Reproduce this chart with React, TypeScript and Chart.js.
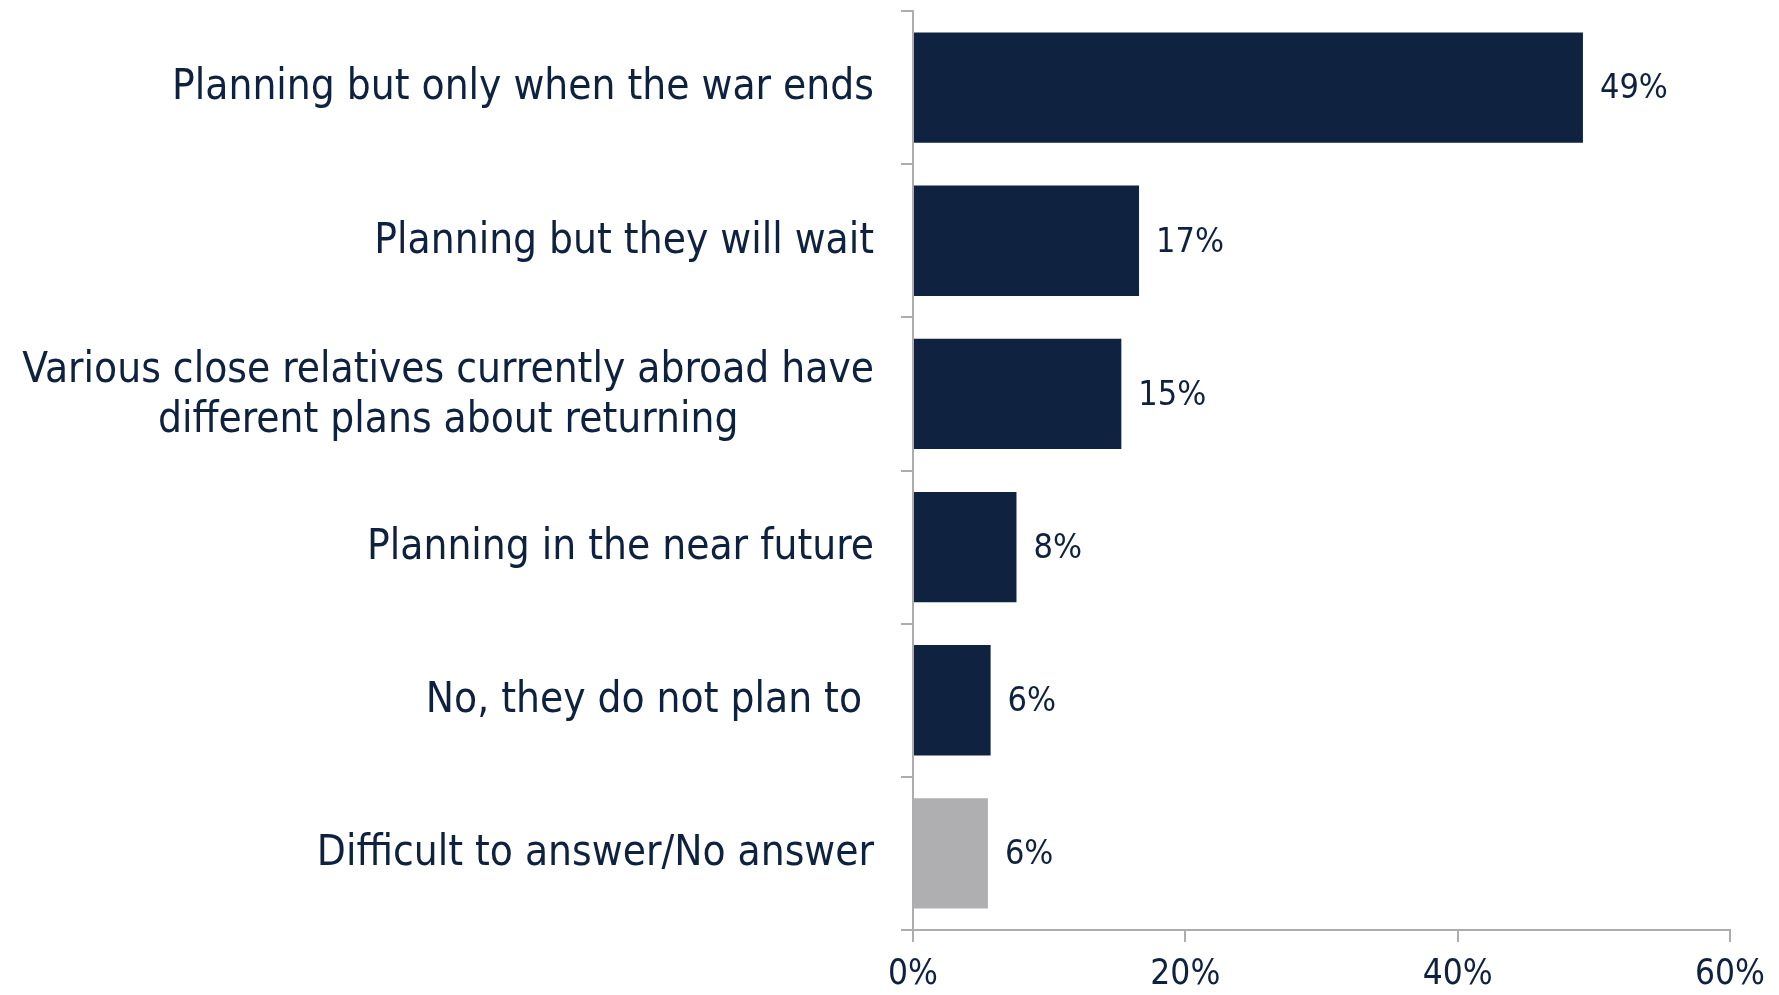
import React, { useEffect, useRef } from "react";
import { Chart, registerables } from "chart.js";

Chart.register(...registerables);

const categories: (string | string[])[] = [
  "Planning but only when the war ends",
  "Planning but they will wait",
  ["Various close relatives currently abroad have", "different plans about returning"],
  "Planning in the near future",
  "No, they do not plan to ",
  "Difficult to answer/No answer",
];
const values = [49.2, 16.6, 15.3, 7.6, 5.7, 5.5];
const valueLabels = ["49%", "17%", "15%", "8%", "6%", "6%"];
const barColors = ["#0F2341", "#0F2341", "#0F2341", "#0F2341", "#0F2341", "#AFAFB1"];
const xTicks = [0, 20, 40, 60];

const NAVY = "#0E2240";
const AXIS = "#ADADB0";
const LABEL_FONT = '"DejaVu Sans Condensed", "DejaVu Sans", sans-serif';
const NUM_FONT = '"DejaVu Sans Condensed", sans-serif';

export default function App() {
  const ref = useRef<HTMLCanvasElement | null>(null);
  useEffect(() => {
    document.body.style.margin = "0";
    const canvas = ref.current!;
    const labelsPlugin = {
      id: "customLabels",
      afterDatasetsDraw(chart: any) {
        const ctx = chart.ctx;
        const meta = chart.getDatasetMeta(0);
        ctx.save();
        ctx.fillStyle = NAVY;
        ctx.font = `34px ${NUM_FONT}`;
        ctx.textAlign = "left";
        ctx.textBaseline = "middle";
        meta.data.forEach((bar: any, i: number) => {
          ctx.fillText(valueLabels[i], bar.x + 17, bar.y + 2);
        });
        // category labels
        const yScale = chart.scales.y;
        const xRight = yScale.right - 39;
        ctx.font = `42px ${LABEL_FONT}`;
        ctx.textBaseline = "middle";
        categories.forEach((c, i) => {
          const y = yScale.getPixelForValue(i);
          if (Array.isArray(c)) {
            const widths = c.map((l) => ctx.measureText(l).width);
            const maxW = Math.max(...widths);
            const center = xRight - maxW / 2;
            const lh = 50;
            ctx.textAlign = "center";
            c.forEach((line, j) => {
              ctx.fillText(line, center, y + 2 + (j - (c.length - 1) / 2) * lh);
            });
          } else {
            ctx.textAlign = "right";
            ctx.fillText(c, xRight, y + 1);
          }
        });
        ctx.restore();
      },
    };
    const chart = new Chart(canvas, {
      type: "bar",
      data: {
        labels: categories.map((c) => (Array.isArray(c) ? c.join(" ") : c)),
        datasets: [
          {
            data: values,
            backgroundColor: barColors,
            barPercentage: 0.72,
            categoryPercentage: 1,
          },
        ],
      },
      options: {
        indexAxis: "y",
        animation: false,
        responsive: false,
        maintainAspectRatio: false,
        layout: { padding: { left: 0, right: 49, top: 11, bottom: 0 } },
        plugins: { legend: { display: false }, tooltip: { enabled: false } },
        scales: {
          x: {
            min: 0,
            max: 60,
            afterBuildTicks: (scale: any) => {
              scale.ticks = xTicks.map((v) => ({ value: v }));
            },
            afterFit: (scale: any) => {
              scale.height = 65;
            },
            border: { color: AXIS, width: 2 },
            grid: { drawOnChartArea: false, drawTicks: true, tickLength: 12, color: AXIS, lineWidth: 2 },
            ticks: {
              color: NAVY,
              font: { family: NUM_FONT, size: 35, lineHeight: 1.4 },
              padding: 8,
              callback: (v: any) => `${v}%`,
            },
          },
          y: {
            afterFit: (scale: any) => {
              scale.width = 913;
            },
            border: { color: AXIS, width: 2 },
            grid: { drawOnChartArea: false, drawTicks: true, tickLength: 12, color: AXIS, lineWidth: 2, offset: true },
            ticks: { display: false },
          },
        },
      },
      plugins: [labelsPlugin],
    });
    return () => chart.destroy();
  }, []);
  return <canvas ref={ref} width={1779} height={995} style={{ display: "block" }} />;
}
